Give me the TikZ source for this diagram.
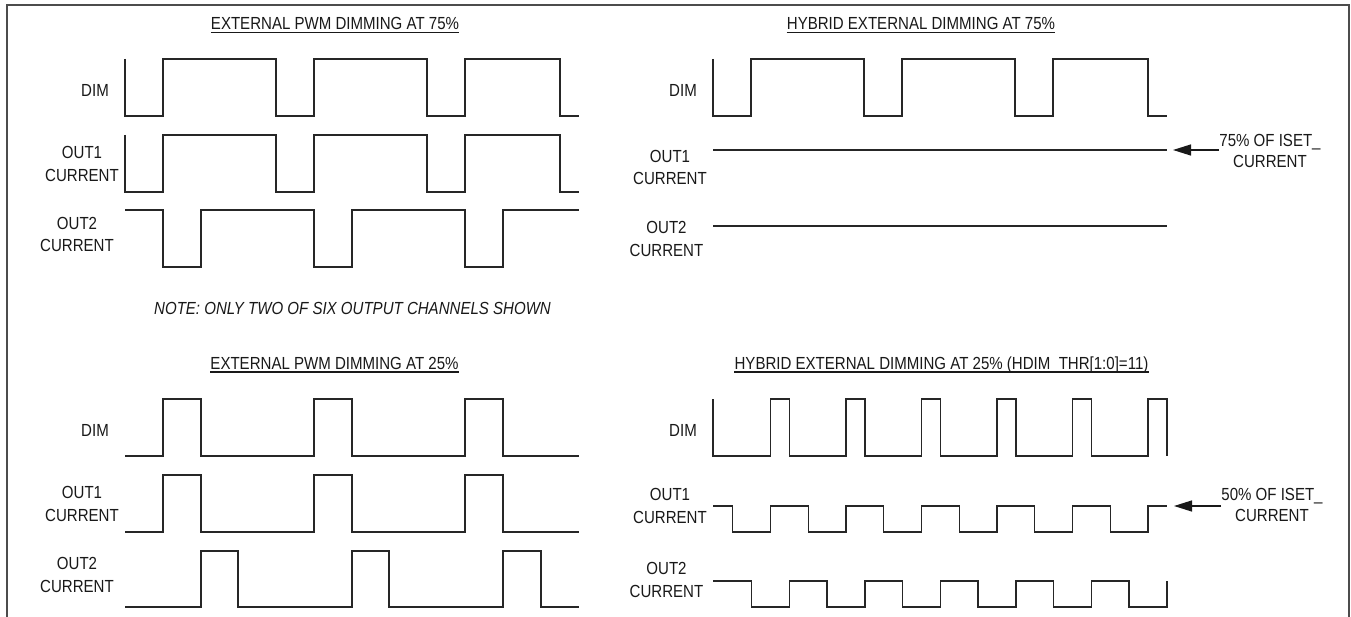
\documentclass[tikz,border=0pt]{standalone}
\usepackage{fontspec}
\setmainfont{Liberation Sans}[FakeStretch=0.86]
\usetikzlibrary{arrows.meta}
\begin{document}
\begin{tikzpicture}[x=1pt,y=-1pt,
  wave/.style={line width=1.4pt, black!85, line join=miter},
  lbl/.style={font=\fontsize{17.5pt}{22.5pt}\selectfont, text=black!90, inner sep=0pt, align=center},
  albl/.style={font=\fontsize{17.5pt}{21pt}\selectfont, text=black!90, inner sep=0pt, align=center},
  ttl/.style={font=\fontsize{17.5pt}{21pt}\selectfont, text=black!90, inner sep=0pt, anchor=base},
  uline/.style={line width=1.3pt, black!90},
  frame/.style={line width=2pt, black!70},
  ptr/.style={line width=1.3pt, black!90, -{Triangle[length=18pt,width=11pt]}}
]
\fill[white] (0,0) rectangle (1351,617);
\useasboundingbox (0,0) rectangle (1351,617);
\draw[frame] (7,617) -- (7,5) -- (1349,5) -- (1349,617);

% ---------- titles ----------
\node[ttl] (t1) at (335,30) {EXTERNAL PWM DIMMING AT 75\%};
\draw[uline] ([yshift=-2.6pt]t1.base west) -- ([yshift=-2.6pt]t1.base east);
\node[ttl] (t2) at (921,30) {HYBRID EXTERNAL DIMMING AT 75\%};
\draw[uline] ([yshift=-2.6pt]t2.base west) -- ([yshift=-2.6pt]t2.base east);
\node[ttl] (t3) at (334.5,369.5) {EXTERNAL PWM DIMMING AT 25\%};
\draw[uline] ([yshift=-2.6pt]t3.base west) -- ([yshift=-2.6pt]t3.base east);
\node[ttl] (t4) at (941.5,369.5) {HYBRID EXTERNAL DIMMING AT 25\% (HDIM\_THR[1:0]=11)};
\draw[uline] ([yshift=-2.6pt]t4.base west) -- ([yshift=-2.6pt]t4.base east);
\node[ttl, font=\fontsize{17.5pt}{21pt}\selectfont\itshape] (note) at (352.5,314.5) {NOTE: ONLY TWO OF SIX OUTPUT CHANNELS SHOWN};

% ---------- signal labels ----------
\node[lbl, anchor=base east] (dim1) at (109,96.5) {DIM};
\node[lbl] (o1tl) at (82,163.75) {OUT1\\CURRENT};
\node[lbl] (o2tl) at (77,234.5) {OUT2\\CURRENT};
\node[lbl, anchor=base east] (dim2) at (697,96.5) {DIM};
\node[lbl] (o1tr) at (670,167.5) {OUT1\\CURRENT};
\node[lbl] (o2tr) at (666.5,238.75) {OUT2\\CURRENT};
\node[lbl, anchor=base east] (dim3) at (109,436.5) {DIM};
\node[lbl] (o1bl) at (82,503.75) {OUT1\\CURRENT};
\node[lbl] (o2bl) at (77,575) {OUT2\\CURRENT};
\node[lbl, anchor=base east] (dim4) at (697,436.5) {DIM};
\node[lbl] (o1br) at (670,505.75) {OUT1\\CURRENT};
\node[lbl] (o2br) at (666.5,580) {OUT2\\CURRENT};

% ---------- top-left: external PWM 75% ----------
\draw[wave] (125,59) -- (125,116) -- (163,116) -- (163,59) -- (276,59) -- (276,116) -- (314,116) -- (314,59) -- (427,59) -- (427,116) -- (465,116) -- (465,59) -- (560,59) -- (560,116) -- (579,116);
\draw[wave] (125,135) -- (125,192) -- (163,192) -- (163,135) -- (276,135) -- (276,192) -- (314,192) -- (314,135) -- (427,135) -- (427,192) -- (465,192) -- (465,135) -- (560,135) -- (560,192) -- (579,192);
\draw[wave] (125,210) -- (163,210) -- (163,267) -- (201,267) -- (201,210) -- (314,210) -- (314,267) -- (352,267) -- (352,210) -- (465,210) -- (465,267) -- (503,267) -- (503,210) -- (579,210);

% ---------- top-right: hybrid 75% ----------
\draw[wave] (713,59) -- (713,116) -- (751,116) -- (751,59) -- (864,59) -- (864,116) -- (902,116) -- (902,59) -- (1015,59) -- (1015,116) -- (1053,116) -- (1053,59) -- (1148,59) -- (1148,116) -- (1167,116);
\draw[wave] (713,150) -- (1167,150);
\draw[wave] (713,226) -- (1167,226);
\node[albl] (n75) at (1270,151) {75\% OF ISET\_\\CURRENT};
\coordinate (tip75) at (1173,150);
\draw[ptr] (n75.west |- 0,150) -- (tip75);

% ---------- bottom-left: external PWM 25% ----------
\draw[wave] (125,456) -- (163,456) -- (163,399) -- (201,399) -- (201,456) -- (314,456) -- (314,399) -- (352,399) -- (352,456) -- (465,456) -- (465,399) -- (503,399) -- (503,456) -- (579,456);
\draw[wave] (125,532) -- (163,532) -- (163,475) -- (201,475) -- (201,532) -- (314,532) -- (314,475) -- (352,475) -- (352,532) -- (465,532) -- (465,475) -- (503,475) -- (503,532) -- (579,532);
\draw[wave] (125,607) -- (201,607) -- (201,551) -- (238,551) -- (238,607) -- (352,607) -- (352,551) -- (389,551) -- (389,607) -- (503,607) -- (503,551) -- (541,551) -- (541,607) -- (579,607);

% ---------- bottom-right: hybrid 25% ----------
\draw[wave] (713,399) -- (713,456) -- (770.5,456) -- (770.5,399) -- (789.5,399) -- (789.5,456) -- (846,456) -- (846,399) -- (865,399) -- (865,456) -- (921.5,456) -- (921.5,399) -- (940.5,399) -- (940.5,456) -- (997,456) -- (997,399) -- (1016,399) -- (1016,456) -- (1072.5,456) -- (1072.5,399) -- (1091.5,399) -- (1091.5,456) -- (1148,456) -- (1148,399) -- (1167,399) -- (1167,456);
\draw[wave] (713,506) -- (732.25,506) -- (732.25,532) -- (770.5,532) -- (770.5,506) -- (808.25,506) -- (808.25,532) -- (846,532) -- (846,506) -- (883.75,506) -- (883.75,532) -- (921.5,532) -- (921.5,506) -- (959.25,506) -- (959.25,532) -- (997,532) -- (997,506) -- (1034.75,506) -- (1034.75,532) -- (1072.5,532) -- (1072.5,506) -- (1110.25,506) -- (1110.25,532) -- (1148,532) -- (1148,506) -- (1167,506);
\draw[wave] (713,581) -- (751.5,581) -- (751.5,607) -- (789.5,607) -- (789.5,581) -- (827,581) -- (827,607) -- (865,607) -- (865,581) -- (902.5,581) -- (902.5,607) -- (940.5,607) -- (940.5,581) -- (978,581) -- (978,607) -- (1016,607) -- (1016,581) -- (1053.5,581) -- (1053.5,607) -- (1091.5,607) -- (1091.5,581) -- (1129,581) -- (1129,607) -- (1167,607) -- (1167,581);
\node[albl] (n50) at (1272,504.75) {50\% OF ISET\_\\CURRENT};
\coordinate (tip50) at (1174,506);
\draw[ptr] (n50.west |- 0,506) -- (tip50);
\end{tikzpicture}
\end{document}
